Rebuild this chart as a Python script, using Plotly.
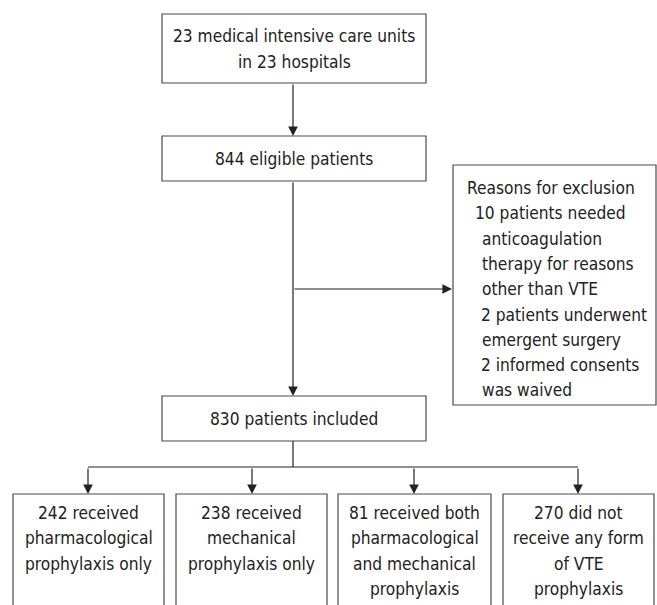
import plotly.graph_objects as go

# ---- data (texts) ----
top_box = ["23 medical intensive care units", "in 23 hospitals"]
eligible_box = ["844 eligible patients"]
included_box = ["830 patients included"]
exclusion_title = "Reasons for exclusion"
exclusion_items = [
    ["10 patients needed", "anticoagulation", "therapy for reasons", "other than VTE"],
    ["2 patients underwent", "emergent surgery"],
    ["2 informed consents", "was waived"],
]
group_boxes = [
    ["242 received", "pharmacological", "prophylaxis only"],
    ["238 received", "mechanical", "prophylaxis only"],
    ["81 received both", "pharmacological", "and mechanical", "prophylaxis"],
    ["270 did not", "receive any form", "of VTE", "prophylaxis"],
]

W, H = 657, 605
FONT = "DejaVu Sans Condensed"
FS = 17.2
LH = 25.3
BOX_C = "#4a4a4a"
LINE_C = "#222222"
TXT_C = "#222222"

fig = go.Figure()
shapes = []
annotations = []


def rect(x0, y0, x1, y1):
    shapes.append(dict(type="rect", xref="x", yref="y", x0=x0, y0=y0, x1=x1, y1=y1,
                       line=dict(color=BOX_C, width=1.2), fillcolor="rgba(0,0,0,0)"))


def line(x0, y0, x1, y1):
    shapes.append(dict(type="line", xref="x", yref="y", x0=x0, y0=y0, x1=x1, y1=y1,
                       line=dict(color=LINE_C, width=1.2)))


def arrow(x0, y0, x1, y1):
    annotations.append(dict(x=x1, y=y1, ax=x0, ay=y0, xref="x", yref="y", axref="x", ayref="y",
                            text="", showarrow=True, arrowhead=2, arrowsize=1.6, arrowwidth=1.2,
                            arrowcolor=LINE_C, standoff=0, startstandoff=0))


def text(s, x, y, anchor="center"):
    annotations.append(dict(x=x, y=y, xref="x", yref="y", text=s, showarrow=False,
                            xanchor=anchor, yanchor="middle",
                            font=dict(family=FONT, size=FS, color=TXT_C)))


def centered_lines(lines, cx, cy):
    n = len(lines)
    for i, s in enumerate(lines):
        text(s, cx, cy + (i - (n - 1) / 2) * LH)


# top box
rect(162, 14, 426, 83)
centered_lines(top_box, 294, 49)
arrow(293, 83, 293, 136)

# eligible
rect(162, 136, 426, 181)
centered_lines(eligible_box, 294, 159)
arrow(293, 181, 293, 396)
arrow(293, 289, 452, 289)

# exclusion box
rect(453, 165, 656, 405)
ey = 188
text(exclusion_title, 465, ey, "left")
for item in exclusion_items:
    for j, s in enumerate(item):
        ey += LH
        if j == 0:
            xs = 473 if s[1].isdigit() else 479
        else:
            xs = 480
        text(s, xs, ey, "left")

# included
rect(162, 396, 426, 441)
centered_lines(included_box, 294, 419)
line(293, 441, 293, 467)
arrow_x = [88, 252, 414, 578]
box_x = [(13, 164), (176, 327), (338, 491), (503, 654)]
line(arrow_x[0], 467, arrow_x[-1], 467)
for ax_, (bx0, bx1), lines in zip(arrow_x, box_x, group_boxes):
    arrow(ax_, 467, ax_, 494)
    rect(bx0, 494, bx1, 640)
    for i, s in enumerate(lines):
        text(s, (bx0 + bx1) / 2, 513 + i * LH)

fig.update_layout(
    width=W, height=H,
    margin=dict(l=0, r=0, t=0, b=0),
    paper_bgcolor="white", plot_bgcolor="white",
    xaxis=dict(range=[0, W], visible=False, fixedrange=True),
    yaxis=dict(range=[H, 0], visible=False, fixedrange=True),
    shapes=shapes, annotations=annotations, showlegend=False,
)
fig.write_html("out.html", config={"displayModeBar": False},
               post_script="document.body.style.margin='0';document.body.style.padding='0';")
